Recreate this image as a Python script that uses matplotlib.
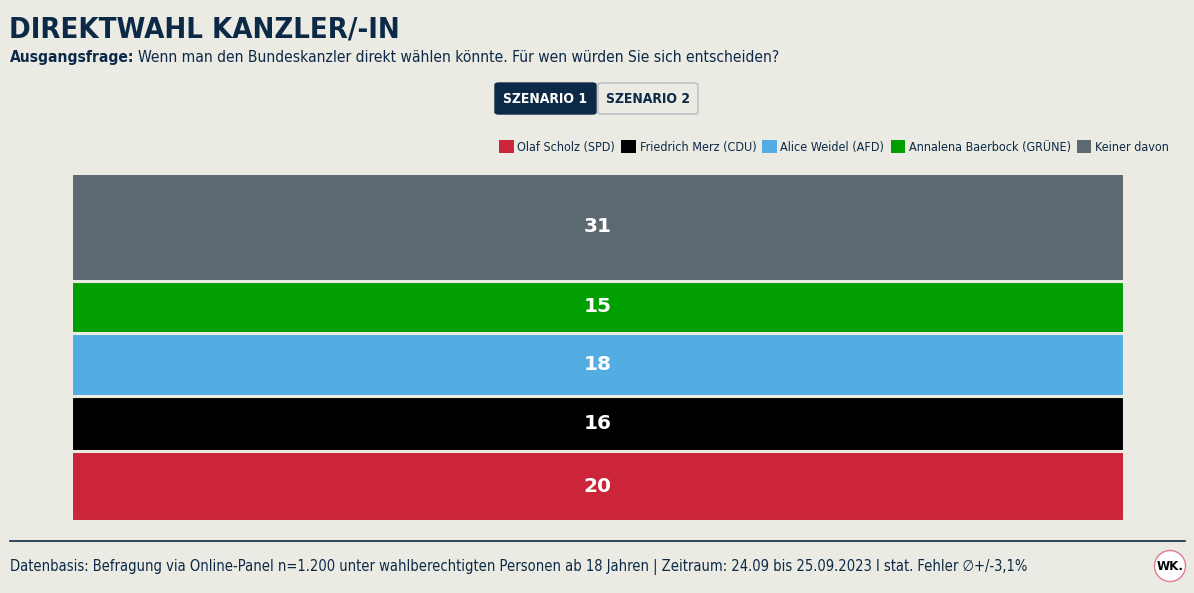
import matplotlib
matplotlib.use("Agg")
import matplotlib.pyplot as plt
from matplotlib.patches import Patch, FancyBboxPatch, Ellipse
from matplotlib.lines import Line2D

# data
candidates = ["Olaf Scholz (SPD)", "Friedrich Merz (CDU)", "Alice Weidel (AFD)",
              "Annalena Baerbock (GRÜNE)", "Keiner davon"]
values = [20, 16, 18, 15, 31]
colors = ["#CC2438", "#000000", "#52ADE3", "#009E00", "#5D6971"]

BG = "#EBEAE3"
NAVY = "#0C2A47"
W, H = 1194, 593

plt.rcParams["font.family"] = ["DejaVu Sans"]
plt.rcParams["font.stretch"] = "condensed"


def fx(x):
    return x / W


def fy(y):
    return 1 - y / H


fig = plt.figure(figsize=(W / 100, H / 100), dpi=100, facecolor=BG)

# one 100% column, segments separated by background-coloured edges
ax = fig.add_axes([fx(71), fy(521), (1124 - 71) / W, (521 - 173) / H])
ax.set_facecolor(BG)
bottom = 0
for name, val, col in zip(candidates, values, colors):
    ax.bar(0, val, bottom=bottom, width=1, color=col, edgecolor=BG, linewidth=2.2)
    ax.text(0, bottom + val / 2, str(val), ha="center", va="center",
            color="white", fontsize=14.5, fontweight="bold", fontstretch="normal")
    bottom += val
ax.set_xlim(-0.5, 0.5)
ax.set_ylim(0, sum(values))
ax.axis("off")

# header
fig.text(fx(9), fy(38), "DIREKTWAHL KANZLER/-IN", fontsize=21, fontweight="bold",
         color=NAVY, va="baseline")
t1 = fig.text(fx(10), fy(62), "Ausgangsfrage:", fontsize=11.2, fontweight="bold",
              color=NAVY, va="baseline")
fig.canvas.draw()
r = fig.canvas.get_renderer()
bb = t1.get_window_extent(r)
fig.text(bb.x1 / W + fx(4), fy(62), "Wenn man den Bundeskanzler direkt wählen könnte. "
         "Für wen würden Sie sich entscheiden?", fontsize=11.2, color=NAVY, va="baseline")

# scenario buttons
b1 = FancyBboxPatch((fx(495), fy(114)), fx(101), (114 - 83) / H,
                    boxstyle="round,pad=0,rounding_size=0.003", transform=fig.transFigure,
                    facecolor=NAVY, edgecolor=NAVY, linewidth=1)
b2 = FancyBboxPatch((fx(598), fy(114)), fx(100), (114 - 83) / H,
                    boxstyle="round,pad=0,rounding_size=0.003", transform=fig.transFigure,
                    facecolor=BG, edgecolor="#B5BCBF", linewidth=1)
fig.patches.extend([b1, b2])
fig.text(fx(545.5), fy(99), "SZENARIO 1", ha="center", va="center", fontsize=10,
         fontweight="bold", color="white")
fig.text(fx(648), fy(99), "SZENARIO 2", ha="center", va="center", fontsize=10,
         fontweight="bold", color=NAVY)

# legend
handles = [Patch(facecolor=c, edgecolor="none") for c in colors]
fig.legend(handles, candidates, loc="center right", bbox_to_anchor=(fx(1174), fy(147)),
           ncol=5, frameon=False, fontsize=9, handlelength=1.15, handleheight=1.15,
           handletextpad=0.3, columnspacing=0.5, labelcolor=NAVY, borderaxespad=0)

# footer
fig.add_artist(Line2D([fx(10), fx(1185)], [fy(541), fy(541)], color=NAVY, linewidth=1.2))
fig.text(fx(10), fy(567), "Datenbasis: Befragung via Online-Panel n=1.200 unter wahlberechtigten "
         "Personen ab 18 Jahren | Zeitraum: 24.09 bis 25.09.2023 I stat. Fehler \u2205+/-3,1%",
         fontsize=10.5, color=NAVY, va="center")
logo = Ellipse((fx(1170), fy(566)), 31 / W, 31 / H, transform=fig.transFigure,
               facecolor="white", edgecolor="#E07A95", linewidth=1)
fig.patches.append(logo)
fig.text(fx(1170), fy(566), "WK.", ha="center", va="center", fontsize=9.5,
         fontweight="bold", color="black")

fig.savefig("out.png", dpi=100, facecolor=BG)
